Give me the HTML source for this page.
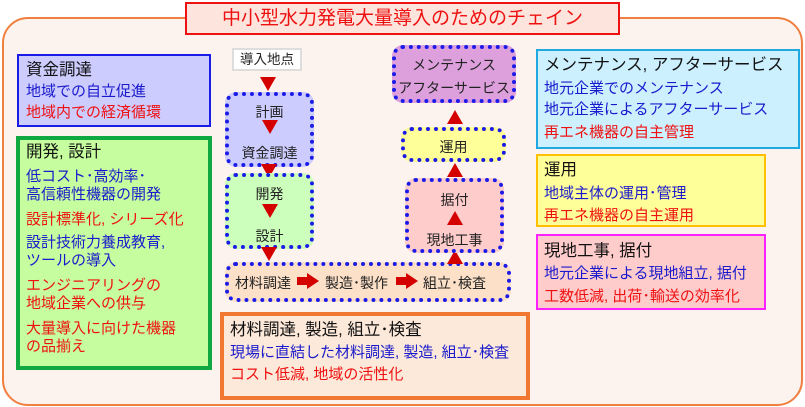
<!DOCTYPE html>
<html><head><meta charset="utf-8"><style>
body{margin:0;width:805px;height:407px;background:#fff;position:relative;overflow:hidden;font-family:"Liberation Sans","Noto Sans CJK JP",sans-serif;}
div{position:absolute;box-sizing:border-box;}
.t{white-space:nowrap;font-size:15px;line-height:18px;}
.h{font-size:16.5px;color:#111;}
.b{color:#1a1acc;}
.r{color:#ee1111;}
.dot{border:4px dotted #1b1be8;border-radius:11px;}
.c{text-align:center;font-size:14px;color:#222;width:100%;left:0;}
.arr{width:0;height:0;}
.ad{border-left:8px solid transparent;border-right:8px solid transparent;border-top:14px solid #d40000;}
.au{border-left:8px solid transparent;border-right:8px solid transparent;border-bottom:14px solid #d40000;}
</style></head><body>
<div style="left:2px;top:17px;width:801px;height:389px;border:2px solid #f08040;border-radius:26px;background:#fdf3ee;"></div>
<div style="left:185px;top:2px;width:435px;height:33px;border:2px solid #ee1111;background:#fde4dc;color:#ee1111;font-size:19px;line-height:29px;text-align:center;">中小型水力発電大量導入のためのチェイン</div>

<div style="left:17px;top:54px;width:194px;height:73px;border:2px solid #1b1be8;background:#ccccff;"></div>
<div class="t h" style="left:26px;top:61px;">資金調達</div>
<div class="t b" style="left:26px;top:83px;">地域での自立促進</div>
<div class="t r" style="left:26px;top:104px;">地域内での経済循環</div>

<div style="left:16px;top:136px;width:196px;height:234px;border:4px solid #10a840;background:#c6fd9e;"></div>
<div class="t h" style="left:26px;top:143px;">開発, 設計</div>
<div class="t b" style="left:26px;top:168px;">低コスト･高効率･<br>高信頼性機器の開発</div>
<div class="t r" style="left:26px;top:211px;">設計標準化, シリーズ化</div>
<div class="t b" style="left:26px;top:234px;">設計技術力養成教育,<br>ツールの導入</div>
<div class="t r" style="left:26px;top:277px;">エンジニアリングの<br>地域企業への供与</div>
<div class="t r" style="left:26px;top:320px;">大量導入に向けた機器<br>の品揃え</div>

<div style="left:536px;top:49px;width:264px;height:100px;border:2px solid #20a8e0;background:#ccf0fe;"></div>
<div class="t h" style="left:544px;top:56px;">メンテナンス, アフターサービス</div>
<div class="t b" style="left:544px;top:80px;">地元企業でのメンテナンス</div>
<div class="t b" style="left:544px;top:101px;">地元企業によるアフターサービス</div>
<div class="t r" style="left:544px;top:124px;">再エネ機器の自主管理</div>

<div style="left:536px;top:154px;width:230px;height:73px;border:2px solid #ffc000;background:#ffff99;"></div>
<div class="t h" style="left:544px;top:161px;">運用</div>
<div class="t b" style="left:544px;top:185px;">地域主体の運用･管理</div>
<div class="t r" style="left:544px;top:207px;">再エネ機器の自主運用</div>

<div style="left:536px;top:234px;width:230px;height:76px;border:2px solid #ff20ff;background:#ffcccc;"></div>
<div class="t h" style="left:544px;top:242px;">現地工事, 据付</div>
<div class="t b" style="left:544px;top:265px;">地元企業による現地組立, 据付</div>
<div class="t r" style="left:544px;top:288px;">工数低減, 出荷･輸送の効率化</div>

<div style="left:220px;top:312px;width:310px;height:88px;border:4px solid #f07830;background:#fde9d9;"></div>
<div class="t h" style="left:230px;top:321px;">材料調達, 製造, 組立･検査</div>
<div class="t b" style="left:230px;top:344px;">現場に直結した材料調達, 製造, 組立･検査</div>
<div class="t r" style="left:230px;top:366px;">コスト低減, 地域の活性化</div>

<!-- center flow -->
<div style="left:232px;top:48px;width:70px;height:23px;border:2px solid #ddd;background:#fff;font-size:13.5px;line-height:19px;text-align:center;color:#222;">導入地点</div>
<div class="arr ad" style="left:260px;top:77px;"></div>
<div class="dot" style="left:225px;top:92px;width:89px;height:75px;background:#ccccff;">
 <div class="c" style="top:6px;">計画</div><div class="c" style="top:47px;">資金調達</div>
 <div class="arr ad" style="left:33px;top:24px;"></div></div>
<div class="arr ad" style="left:261px;top:164px;"></div>
<div class="dot" style="left:225px;top:173px;width:89px;height:76px;background:#ccffbb;">
 <div class="c" style="top:7px;">開発</div><div class="c" style="top:49px;">設計</div>
 <div class="arr ad" style="left:33px;top:27px;"></div></div>
<div class="arr ad" style="left:261px;top:247px;"></div>
<div class="dot" style="left:225px;top:262px;width:286px;height:40px;background:#fde0c8;">
 <div class="t" style="left:6px;top:8px;font-size:14px;color:#222;">材料調達</div>
 <div class="t" style="left:96px;top:8px;font-size:14px;color:#222;">製造･製作</div>
 <div class="t" style="left:194px;top:8px;font-size:14px;color:#222;">組立･検査</div>
 <div style="left:68px;top:11px;width:10px;height:8px;background:#d40000;"></div>
 <div class="arr" style="left:78px;top:7px;border-top:8px solid transparent;border-bottom:8px solid transparent;border-left:12px solid #d40000;"></div>
 <div style="left:167px;top:11px;width:10px;height:8px;background:#d40000;"></div>
 <div class="arr" style="left:177px;top:7px;border-top:8px solid transparent;border-bottom:8px solid transparent;border-left:12px solid #d40000;"></div>
</div>
<div class="arr au" style="left:447px;top:250px;"></div>
<div class="dot" style="left:405px;top:178px;width:99px;height:75px;background:#ffcccc;">
 <div class="c" style="top:8px;">据付</div><div class="c" style="top:48px;">現地工事</div>
 <div class="arr au" style="left:38px;top:29px;"></div></div>
<div class="arr au" style="left:447px;top:163px;"></div>
<div class="dot" style="left:401px;top:127px;width:105px;height:35px;background:#ffff99;">
 <div class="c" style="top:6px;">運用</div></div>
<div class="arr au" style="left:447px;top:110px;"></div>
<div class="dot" style="left:392px;top:45px;width:124px;height:58px;background:#dda0dd;">
 <div class="c" style="top:6px;">メンテナンス</div><div class="c" style="top:29px;">アフターサービス</div></div>
</body></html>
